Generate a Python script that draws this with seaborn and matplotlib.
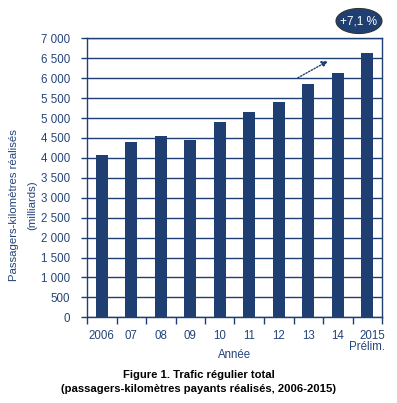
import matplotlib
matplotlib.use("Agg")
import matplotlib.pyplot as plt
import seaborn as sns
import pandas as pd
from matplotlib.patches import Ellipse
from matplotlib.ticker import FuncFormatter, FixedLocator

years = ["2006", "07", "08", "09", "10", "11", "12", "13", "14", "2015\nPrélim."]
values = [4080, 4390, 4560, 4440, 4910, 5150, 5400, 5850, 6130, 6620]
yticks = list(range(0, 7001, 500))

NAVY = "#1F3F73"
TXT = "#24447A"

sns.set_theme(style="white")
plt.rcParams["font.family"] = ["Liberation Sans", "DejaVu Sans"]

W, H = 397, 403
fig = plt.figure(figsize=(W / 100, H / 100), dpi=100)
left, right, top, bottom = 87, 382, 38.3, 317.3
ax = fig.add_axes([left / W, 1 - bottom / H, (right - left) / W, (bottom - top) / H])

df = pd.DataFrame({"year": years, "value": values})
sns.barplot(data=df, x="year", y="value", color=NAVY, saturation=1, width=0.41, ax=ax)
for p in ax.patches:
    p.set_zorder(3)
    p.set_edgecolor("none")

ax.set_ylim(0, 7000)
ax.set_xlim(-0.5, len(years) - 0.5)
ax.yaxis.set_major_locator(FixedLocator(yticks))
ax.yaxis.set_major_formatter(FuncFormatter(lambda v, p: f"{int(v):,}".replace(",", " ")))
ax.set_axisbelow(True)
ax.grid(axis="y", color=NAVY, linewidth=1.0, zorder=0)
for s in ax.spines.values():
    s.set_visible(True)
    s.set_color(NAVY)
    s.set_linewidth(1.0)
    s.set_zorder(4)

ax.tick_params(axis="y", direction="out", length=4, width=1, color=NAVY, labelcolor=TXT,
               labelsize=8.3, pad=8, left=True)
ax.set_xticks(range(len(years)))
ax.set_xticklabels(years)
ax.set_xticks([i - 0.5 for i in range(len(years) + 1)], minor=True)
ax.tick_params(axis="x", which="major", length=0, labelcolor=TXT, labelsize=8.3, pad=9)
ax.tick_params(axis="x", which="minor", direction="out", length=5, width=1, color=NAVY, bottom=True)
lbls = ax.get_xticklabels()
lbls[-1].set_horizontalalignment("center")
lbls[-1].set_multialignment("right")
lbls[-1].set_linespacing(0.9)

ax.set_xlabel("")
ax.set_ylabel("")
fig.text((left + right) / 2 / W, 1 - 355 / H, "Année", ha="center", va="center",
         color=TXT, fontsize=8.3)
fig.text(14 / W, 1 - 205 / H, "Passagers-kilomètres réalisés", rotation=90, ha="center",
         va="center", color=TXT, fontsize=8.2)
fig.text(32 / W, 1 - 205 / H, "(milliards)", rotation=90, ha="center", va="center",
         color=TXT, fontsize=8.2)

fig.text(0.5, 1 - 374.5 / H, "Figure 1. Trafic régulier total",
         ha="center", va="center", fontsize=8.1, fontweight="bold", color="black")
fig.text(0.5, 1 - 389.5 / H, "(passagers-kilomètres payants réalisés, 2006-2015)",
         ha="center", va="center", fontsize=8.1, fontweight="bold", color="black")

# growth arrow
ax.annotate("", xy=(7.67, 6430), xytext=(6.65, 6010),
            arrowprops=dict(arrowstyle="-|>", linestyle=(0, (1, 1.2)), color=NAVY, lw=1.0,
                            mutation_scale=9, shrinkA=0, shrinkB=0), zorder=5)

ell = Ellipse((359 / W, 1 - 21 / H), 46 / W, 25 / H, transform=fig.transFigure,
              facecolor=NAVY, edgecolor="#333333", linewidth=0.8)
fig.patches.append(ell)
fig.text(359 / W, 1 - 21 / H, "+7,1 %", ha="center", va="center", color="white", fontsize=8.5)

fig.savefig("out.png", dpi=100)
